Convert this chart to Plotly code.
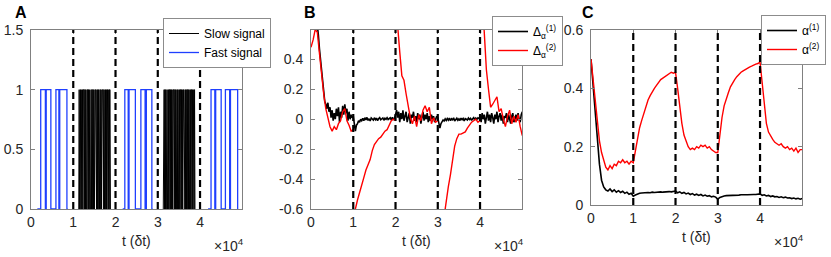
import numpy as np
import plotly.graph_objects as go

T_SCALE = 1e4
switch_times = [1, 2, 3, 4]          # x 1e4
x_ticks = [0, 1, 2, 3, 4]

# ---------------- Panel A ----------------
fast_t = [0.15, 0.23, 0.34, 0.36, 0.47, 0.59, 0.66, 0.68, 0.85, 0.87, None,
          2.17, 2.22, 2.30, 2.32, 2.47, 2.60, 2.70, 2.73, 2.86, 2.88, None,
          4.19, 4.26, 4.35, 4.37, 4.50, 4.60, 4.70, 4.72, 4.89, 4.90]
fast_y = [0, 1, 0, 1, 0, 1, 0, 1, 0, 0, None,
          0, 1, 0, 1, 0, 1, 0, 1, 0, 0, None,
          0, 1, 0, 1, 0, 1, 0, 1, 0, 0]

slow_start_1 = 1.13
slow_bits_1 = [0,1,0,1,1,0,1,0,0,1, 0,1,1,1,0,1,0,1,0,0, 1,1,0,1,0,1,0,0,0,1,
               0,1,1,0,1,0,1,0,1,1, 1,0,0,1,0,1,0,1,0,0, 1,1,0,1,0,1,1,1,1,0,
               1,0,0,1,0,1,0,1,1,0, 0,1,0,1,1,0]
slow_start_2 = 3.13
slow_bits_2 = [0,1,1,0,1,0,1,0,1,1, 0,0,1,0,1,1,0,1,0,1, 0,1,0,0,1,1,1,0,1,0,
               1,0,1,1,0,1,0,0,1,0, 1,1,0,1,0,1,0,1,1,1, 0,0,1,0,1,0,1,1,0,1,
               0,1,0,0,1,0,1,1,0,1, 0,1,1,0,1,0]
slow_step = 0.01

# ---------------- Panel B ----------------
d1_step = 0.025
delta1 = [0.95, 0.92, 0.88, 0.82, 0.76, 0.70, 0.64, 0.56, 0.47, 0.40,
          0.30, 0.22, 0.16, 0.12, 0.10, 0.07, 0.11, 0.05, 0.08, 0.01,
          0.06, -0.01, 0.04, 0.00, 0.07, 0.02, 0.08, -0.02, 0.05, 0.01,
          0.09, 0.03, 0.10, 0.04, 0.07, -0.01, 0.05, 0.00, 0.03, 0.01,
          0.02, -0.05, -0.08, -0.04, -0.03, -0.01, -0.02, 0.00, -0.01, 0.005,
          -0.01, 0.01, -0.005, 0.012, -0.008, 0.003, -0.012, 0.008, 0.0, -0.006,
          0.01, -0.003, 0.007, -0.01, 0.004, 0.011, -0.004, 0.002, 0.008, -0.007,
          0.006, 0.0, 0.01, -0.002, 0.005, 0.009, -0.005, 0.012, 0.0, 0.006,
          0.03, 0.06, 0.01, 0.05, -0.02, 0.04, 0.00, 0.06, -0.01, 0.03,
          0.05, -0.02, 0.02, 0.04, -0.03, 0.03, 0.01, 0.05, -0.01, 0.02,
          -0.02, 0.04, 0.00, 0.03, -0.03, 0.02, 0.05, -0.01, 0.03, 0.00,
          0.04, -0.02, 0.02, -0.01, 0.03, 0.00, 0.02, -0.02, 0.01, 0.02,
          0.01, -0.04, -0.06, -0.03, -0.02, -0.005, -0.012, 0.002, -0.008, 0.004,
          -0.006, 0.008, -0.01, 0.003, -0.004, 0.009, -0.012, 0.0, 0.006, -0.007,
          0.002, -0.009, 0.007, -0.003, 0.005, -0.011, 0.004, 0.0, -0.006, 0.008,
          -0.002, 0.006, -0.008, 0.003, 0.01, -0.004, 0.007, -0.001, 0.009, 0.004,
          0.02, -0.02, 0.04, 0.00, 0.03, -0.03, 0.02, 0.05, -0.01, 0.03,
          -0.02, 0.04, 0.01, -0.03, 0.03, 0.00, 0.05, -0.02, 0.02, 0.04,
          -0.01, 0.03, -0.03, 0.02, 0.01, 0.04, -0.02, 0.03, 0.00, -0.03,
          0.02, 0.04, -0.02, 0.01, 0.03, -0.01, 0.04, 0.00, -0.02, 0.03,
          0.05]

# None marks the reset of the red curve at each switch
delta2_t = [0.00, 0.05, 0.10, 0.15, 0.20, 0.25, 0.30, 0.35, 0.40, 0.45, 0.50, 0.55, 0.60,
            0.65, 0.70, 0.75, 0.80, 0.85, 0.90, 0.95, 1.00, None,
            1.00, 1.05, 1.10, 1.15, 1.20, 1.25, 1.30, 1.35, 1.40, 1.45, 1.50, 1.55, 1.60,
            1.65, 1.70, 1.75, 1.80, 1.85, 1.90, 1.95, 2.00, None,
            2.00, 2.05, 2.10, 2.15, 2.20, 2.25, 2.30, 2.35, 2.40, 2.45, 2.50, 2.55, 2.60,
            2.65, 2.70, 2.75, 2.80, 2.85, 2.90, 2.95, 3.00, None,
            3.00, 3.05, 3.10, 3.15, 3.20, 3.25, 3.30, 3.35, 3.40, 3.45, 3.50, 3.55, 3.60,
            3.65, 3.70, 3.75, 3.80, 3.85, 3.90, 3.95, 4.00, None,
            4.00, 4.05, 4.10, 4.15, 4.20, 4.25, 4.30, 4.35, 4.40, 4.45, 4.50, 4.55, 4.60,
            4.65, 4.70, 4.75, 4.80, 4.85, 4.90, 4.95, 5.00]
delta2 = [0.48, 0.53, 0.60, 0.58, 0.44, 0.30, 0.17, 0.07, 0.00, -0.05, -0.08, -0.05, -0.07,
          -0.03, -0.01, 0.05, 0.07, -0.01, -0.04, -0.08, -0.07, None,
          -0.66, -0.59, -0.54, -0.49, -0.43, -0.39, -0.34, -0.30, -0.27, -0.21, -0.17, -0.15, -0.13,
          -0.12, -0.10, -0.08, -0.07, -0.04, -0.01, 0.00, -0.01, None,
          0.80, 0.65, 0.45, 0.29, 0.26, 0.17, 0.08, 0.01, -0.03, 0.02, -0.05, 0.03, -0.01,
          0.06, 0.09, 0.05, 0.08, -0.03, 0.01, -0.02, -0.01, None,
          -0.95, -0.85, -0.73, -0.62, -0.53, -0.45, -0.37, -0.27, -0.18, -0.13, -0.10, -0.10, -0.09,
          -0.085, -0.06, -0.04, -0.02, -0.01, 0.00, -0.02, -0.01, None,
          0.95, 0.80, 0.58, 0.33, 0.20, 0.08, 0.10, 0.13, 0.15, 0.05, 0.07, 0.00, -0.05,
          0.02, 0.06, -0.03, 0.02, -0.02, 0.03, -0.05, -0.11]

# ---------------- Panel C ----------------
c_step = 0.05
alpha1 = [0.50, 0.41, 0.31, 0.21, 0.14, 0.085, 0.062, 0.052, 0.048, 0.055,
          0.046, 0.052, 0.044, 0.049, 0.043, 0.047, 0.040, 0.044, 0.037, 0.040,
          0.030, 0.034, 0.038, 0.040, 0.041, 0.042, 0.042, 0.043, 0.042, 0.044,
          0.043, 0.044, 0.043, 0.045, 0.044, 0.045, 0.044, 0.046, 0.045, 0.046,
          0.048, 0.042, 0.045, 0.040, 0.043, 0.038, 0.041, 0.036, 0.039, 0.034,
          0.037, 0.033, 0.036, 0.031, 0.034, 0.030, 0.032, 0.028, 0.030, 0.027,
          0.020, 0.026, 0.029, 0.031, 0.032, 0.032, 0.033, 0.033, 0.034, 0.033,
          0.034, 0.035, 0.034, 0.035, 0.035, 0.036, 0.035, 0.036, 0.036, 0.037,
          0.038, 0.033, 0.035, 0.031, 0.033, 0.029, 0.031, 0.028, 0.029, 0.026,
          0.028, 0.025, 0.027, 0.024, 0.025, 0.022, 0.024, 0.021, 0.023, 0.020,
          0.022]
alpha2 = [0.50, 0.43, 0.355, 0.28, 0.22, 0.18, 0.15, 0.13, 0.12, 0.135,
          0.125, 0.14, 0.135, 0.15, 0.145, 0.155, 0.145, 0.15, 0.14, 0.15,
          0.145, 0.19, 0.23, 0.265, 0.29, 0.315, 0.34, 0.36, 0.375, 0.39,
          0.40, 0.41, 0.42, 0.43, 0.435, 0.44, 0.447, 0.45, 0.455, 0.452,
          0.455, 0.40, 0.33, 0.28, 0.24, 0.22, 0.20, 0.19, 0.195, 0.19,
          0.20, 0.195, 0.205, 0.20, 0.205, 0.195, 0.20, 0.19, 0.185, 0.18,
          0.18, 0.25, 0.30, 0.34, 0.365, 0.385, 0.405, 0.42, 0.43, 0.44,
          0.448, 0.455, 0.46, 0.465, 0.47, 0.473, 0.476, 0.48, 0.483, 0.485,
          0.49, 0.42, 0.34, 0.28, 0.25, 0.235, 0.225, 0.215, 0.21, 0.205,
          0.21, 0.20, 0.195, 0.20, 0.19, 0.195, 0.185, 0.195, 0.18, 0.19,
          0.19]

# ---------------- Build ----------------
def scale(ts):
    return [None if v is None else v * T_SCALE for v in ts]

slow_t1 = (slow_start_1 + slow_step * np.arange(len(slow_bits_1))) * T_SCALE
slow_t2 = (slow_start_2 + slow_step * np.arange(len(slow_bits_2))) * T_SCALE
slow_t = list(slow_t1) + [None] + list(slow_t2)
slow_y = list(slow_bits_1) + [None] + list(slow_bits_2)
d1_t = np.arange(len(delta1)) * d1_step * T_SCALE
c_t = np.arange(len(alpha1)) * c_step * T_SCALE

FONT = "Liberation Sans, Arial, sans-serif"
AXC = "#808080"
W, H = 831, 257

def px_x(x):
    return x / W

def px_y(y):
    return 1 - y / H

fig = go.Figure()
fig.add_trace(go.Scatter(x=slow_t, y=slow_y, mode="lines", name="Slow signal",
                         line=dict(color="black", width=1), xaxis="x", yaxis="y",
                         legend="legend", connectgaps=False))
fig.add_trace(go.Scatter(x=scale(fast_t), y=fast_y, mode="lines", name="Fast signal",
                         line=dict(color="#1f3fff", width=1.3, shape="hv"), xaxis="x", yaxis="y",
                         legend="legend", connectgaps=False))
fig.add_trace(go.Scatter(x=d1_t, y=delta1, mode="lines", name="Δ<sub>α</sub><sup>(1)</sup>",
                         line=dict(color="black", width=1.6), xaxis="x2", yaxis="y2",
                         legend="legend2"))
fig.add_trace(go.Scatter(x=scale(delta2_t), y=delta2, mode="lines", name="Δ<sub>α</sub><sup>(2)</sup>",
                         line=dict(color="#ff0000", width=1.4), xaxis="x2", yaxis="y2",
                         legend="legend2", connectgaps=False))
fig.add_trace(go.Scatter(x=c_t, y=alpha1, mode="lines", name="α<sup>(1)</sup>",
                         line=dict(color="black", width=1.6), xaxis="x3", yaxis="y3",
                         legend="legend3"))
fig.add_trace(go.Scatter(x=c_t, y=alpha2, mode="lines", name="α<sup>(2)</sup>",
                         line=dict(color="#ff0000", width=1.4), xaxis="x3", yaxis="y3",
                         legend="legend3"))

# domains (window-pixel based layout)
xdom = [[px_x(31), px_x(242.3)], [px_x(311), px_x(522.3)], [px_x(591), px_x(802.3)]]
bottoms = [209, 209, 205]
ydom = [[px_y(b), px_y(30)] for b in bottoms]
yranges = [[0, 1.5], [-0.6, 0.596], [0, 0.6]]
yticks = [[0, 0.5, 1, 1.5], [-0.6, -0.4, -0.2, 0, 0.2, 0.4], [0, 0.2, 0.4, 0.6]]
yticktext = [["0", "0.5", "1", "1.5"], ["-0.6", "-0.4", "-0.2", "0", "0.2", "0.4"], ["0", "0.2", "0.4", "0.6"]]

common = dict(showline=True, linecolor=AXC, linewidth=1, mirror="allticks", ticks="inside",
              ticklen=4, tickcolor=AXC, showgrid=False, zeroline=False, automargin=False,
              tickfont=dict(family=FONT, size=14, color="#262626"))
layout = {}
for i in range(3):
    sx = "" if i == 0 else str(i + 1)
    layout["xaxis" + sx] = dict(common, domain=xdom[i], range=[0, 5 * T_SCALE],
                                tickvals=[v * T_SCALE for v in x_ticks],
                                ticktext=[str(v) for v in x_ticks],
                                anchor="y" + sx, ticklabelstandoff=0)
    layout["yaxis" + sx] = dict(common, domain=ydom[i], range=yranges[i],
                                tickvals=yticks[i], ticktext=yticktext[i],
                                anchor="x" + sx, ticklabelstandoff=4)

shapes = []
for i in range(3):
    sx = "" if i == 0 else str(i + 1)
    for s in switch_times:
        shapes.append(dict(type="line", xref="x" + sx, yref="y" + sx + " domain",
                           x0=s * T_SCALE, x1=s * T_SCALE, y0=0, y1=1,
                           line=dict(color="black", width=2.2, dash="7px,4px"), layer="above"))

annotations = []
letters = ["A", "B", "C"]
letter_x = [21, 310, 588]
for i in range(3):
    sx = "" if i == 0 else str(i + 1)
    b = bottoms[i]
    annotations.append(dict(text="<b>%s</b>" % letters[i], xref="paper", yref="paper",
                            x=px_x(letter_x[i]), y=px_y(12.5), showarrow=False,
                            font=dict(family=FONT, size=16, color="black"),
                            xanchor="center", yanchor="middle"))
    annotations.append(dict(text="t (δt)", xref="x" + sx + " domain", yref="paper",
                            x=0.5, y=px_y(b + 32), showarrow=False,
                            font=dict(family=FONT, size=14, color="#262626"),
                            xanchor="center", yanchor="middle"))
    annotations.append(dict(text="×10<sup>4</sup>", xref="x" + sx + " domain", yref="paper",
                            x=1.0, xshift=4, y=px_y(b + 36), showarrow=False,
                            font=dict(family=FONT, size=14, color="#262626"),
                            xanchor="right", yanchor="middle"))

leg_common = dict(bgcolor="white", bordercolor="#8c8c8c", borderwidth=1,
                  font=dict(family=FONT, size=12, color="black"), itemwidth=30,
                  yanchor="top", tracegroupgap=0)
layout["legend"] = dict(leg_common, x=px_x(163), xanchor="left", y=px_y(18))
layout["legend2"] = dict(leg_common, x=px_x(492), xanchor="left", y=px_y(16))
layout["legend3"] = dict(leg_common, x=px_x(826), xanchor="right", y=px_y(15))

fig.update_layout(width=W, height=H, margin=dict(l=0, r=0, t=0, b=0, autoexpand=False),
                  paper_bgcolor="white", plot_bgcolor="white", showlegend=True,
                  shapes=shapes, annotations=annotations, **layout)
# remove the default 8px page margin so the figure fills the window exactly
fig.write_html("out.html", config={"displayModeBar": False},
               post_script="document.body.style.margin='0';document.body.style.overflow='hidden';")
